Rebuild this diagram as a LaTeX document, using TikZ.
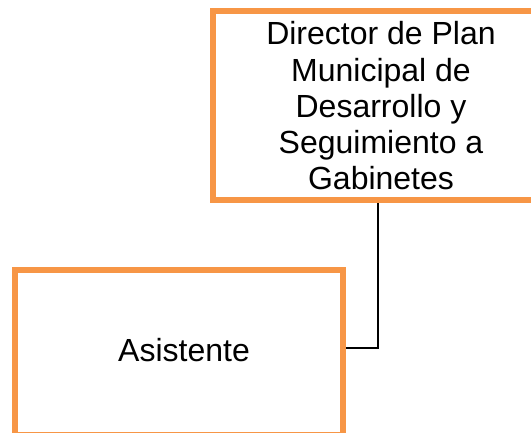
\documentclass[tikz,border=0pt]{standalone}
\usepackage{fontspec}
\setmainfont{Liberation Sans}
\definecolor{boxorange}{HTML}{F79646}
\begin{document}
\begin{tikzpicture}[x=1pt,y=-1pt,
  orgbox/.style={draw=boxorange, line width=6pt, fill=white, inner sep=0pt},
  boxtext/.style={inner sep=0pt, align=center, font=\fontsize{32}{36.25}\selectfont},
  conn/.style={draw=black, line width=2pt}]
\useasboundingbox (0,0) rectangle (531,432);
\begin{scope}
\clip (0,0) rectangle (531,432);
\node[orgbox, minimum width=360pt, minimum height=189pt] (dir) at (393,105.5) {};
\node[boxtext] (dirtext) at (381,106)
  {Director de Plan\\Municipal de\\Desarrollo y\\Seguimiento a\\Gabinetes};
\node[orgbox, minimum width=328pt, minimum height=164.5pt] (asis) at (179,352.25) {};
\node[boxtext] (asistext) at (184,350) {Asistente};
\coordinate (top) at (378,0);
\draw[conn] (top |- dir.south) |- ([yshift=4pt]asis.east);
\end{scope}
\end{tikzpicture}
\end{document}
